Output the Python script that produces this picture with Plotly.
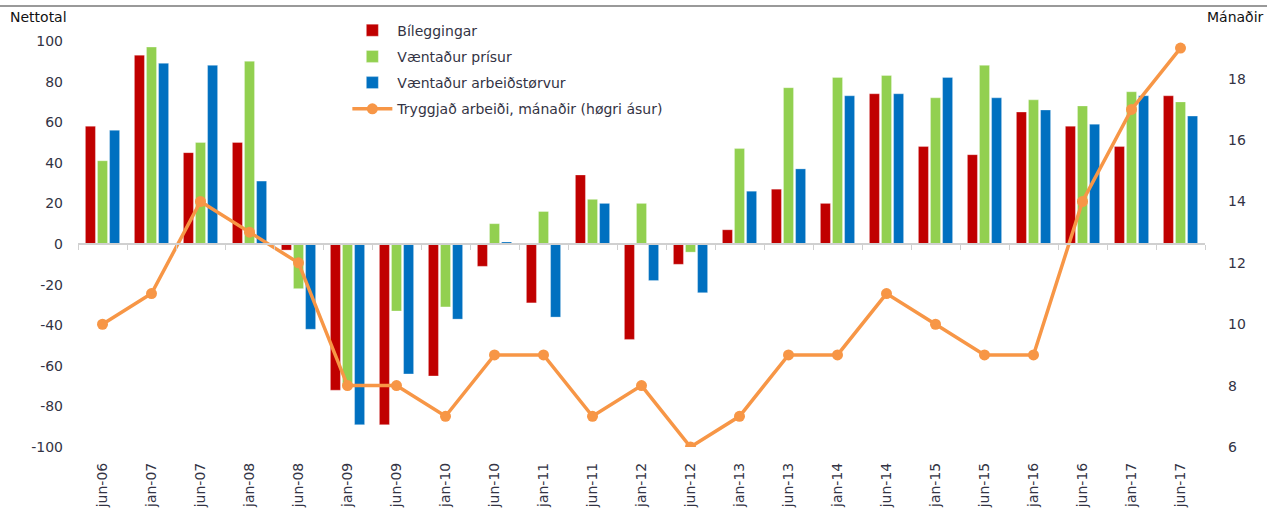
import plotly.graph_objects as go

categories = [
    "jun-06", "jan-07", "jun-07", "jan-08", "jun-08", "jan-09", "jun-09", "jan-10",
    "jun-10", "jan-11", "jun-11", "jan-12", "jun-12", "jan-13", "jun-13", "jan-14",
    "jun-14", "jan-15", "jun-15", "jan-16", "jun-16", "jan-17", "jun-17",
]
bileggingar = [58, 93, 45, 50, -3, -72, -89, -65, -11, -29, 34, -47, -10, 7, 27, 20, 74, 48, 44, 65, 58, 48, 73]
vaentadur_prisur = [41, 97, 50, 90, -22, -70, -33, -31, 10, 16, 22, 20, -4, 47, 77, 82, 83, 72, 88, 71, 68, 75, 70]
vaentadur_arbeid = [56, 89, 88, 31, -42, -89, -64, -37, 1, -36, 20, -18, -24, 26, 37, 73, 74, 82, 72, 66, 59, 73, 63]
tryggjad_arbeidi = [10, 11, 14, 13, 12, 8, 8, 7, 9, 9, 7, 8, 6, 7, 9, 9, 11, 10, 9, 9, 14, 17, 19]
left_ticks = [-100, -80, -60, -40, -20, 0, 20, 40, 60, 80, 100]

RED = "#C00000"
GREEN = "#92D050"
BLUE = "#0070C0"
ORANGE = "#F79646"
TEXT = "#333344"
FONT = "DejaVu Sans"

fig = go.Figure()

bar_series = [
    ("Bíleggingar", bileggingar, RED),
    ("Væntaður prísur", vaentadur_prisur, GREEN),
    ("Væntaður arbeiðstørvur", vaentadur_arbeid, BLUE),
]
for i, (name, vals, color) in enumerate(bar_series):
    fig.add_trace(
        go.Bar(
            x=categories,
            y=vals,
            name=name,
            legendgroup=f"g{i}",
            marker={"color": color, "line": {"color": "rgba(255,255,255,0.6)", "width": 0.5}},
        )
    )

fig.add_trace(
    go.Scatter(
        x=categories,
        y=tryggjad_arbeidi,
        name="Tryggjað arbeiði, mánaðir (høgri ásur)",
        legendgroup="g3",
        mode="lines+markers",
        line={"color": ORANGE, "width": 3.5},
        marker={"color": ORANGE, "size": 11},
        yaxis="y2",
    )
)

# invisible trace to carry the category axis drawn along the zero line
fig.add_trace(
    go.Scatter(
        x=categories,
        y=[None] * len(categories),
        xaxis="x2",
        showlegend=False,
        hoverinfo="skip",
    )
)

fig.update_layout(
    width=1267,
    height=513,
    margin={"l": 78, "r": 62, "t": 41, "b": 66},
    plot_bgcolor="white",
    paper_bgcolor="white",
    font={"family": FONT, "size": 14, "color": TEXT},
    barmode="group",
    bargap=0.26,
    bargroupgap=0.17,
    showlegend=True,
    legend={
        "x": 0.239,
        "y": 1.065,
        "xanchor": "left",
        "yanchor": "top",
        "traceorder": "grouped",
        "tracegroupgap": 5,
        "itemwidth": 40,
        "bgcolor": "rgba(0,0,0,0)",
        "font": {"size": 14, "color": TEXT},
    },
    xaxis={
        "type": "category",
        "categoryarray": categories,
        "range": [-0.5, len(categories) - 0.5],
        "tickangle": -90,
        "showline": False,
        "showgrid": False,
        "ticks": "",
        "automargin": False,
        "ticklabelstandoff": 12,
        "tickfont": {"size": 14, "color": TEXT},
    },
    xaxis2={
        "type": "category",
        "categoryarray": categories,
        "range": [-0.5, len(categories) - 0.5],
        "overlaying": "x",
        "anchor": "free",
        "position": 0.5,
        "side": "bottom",
        "showticklabels": False,
        "showline": True,
        "linecolor": "#d0d0d0",
        "linewidth": 1.5,
        "ticks": "outside",
        "tickson": "boundaries",
        "ticklen": 5,
        "tickcolor": "#d0d0d0",
        "showgrid": False,
    },
    yaxis={
        "range": [-100, 100],
        "tickvals": left_ticks,
        "ticktext": [str(v) for v in left_ticks],
        "showgrid": False,
        "zeroline": False,
        "ticks": "",
        "automargin": False,
        "ticklabelstandoff": 14,
        "tickfont": {"size": 14, "color": TEXT},
    },
    yaxis2={
        "range": [6, 19.23],
        "tick0": 6,
        "dtick": 2,
        "overlaying": "y",
        "side": "right",
        "showgrid": False,
        "zeroline": False,
        "ticks": "",
        "automargin": False,
        "ticklabelstandoff": 22,
        "tickfont": {"size": 14, "color": TEXT},
    },
    shapes=[
        {
            "type": "line",
            "xref": "paper",
            "yref": "paper",
            "x0": -0.08,
            "x1": 1.07,
            "y0": 1.086,
            "y1": 1.086,
            "line": {"color": "#999999", "width": 2},
        }
    ],
    annotations=[
        {
            "text": "Nettotal",
            "xref": "paper",
            "yref": "paper",
            "x": -0.062,
            "y": 1.058,
            "xanchor": "left",
            "yanchor": "middle",
            "showarrow": False,
            "font": {"size": 14, "color": "#111111"},
        },
        {
            "text": "Mánaðir",
            "xref": "paper",
            "yref": "paper",
            "x": 1.054,
            "y": 1.058,
            "xanchor": "right",
            "yanchor": "middle",
            "showarrow": False,
            "font": {"size": 14, "color": "#111111"},
        },
    ],
)

fig.write_html(
    "out.html",
    config={"displayModeBar": False},
    post_script="document.body.style.margin='0';document.body.style.padding='0';",
)
